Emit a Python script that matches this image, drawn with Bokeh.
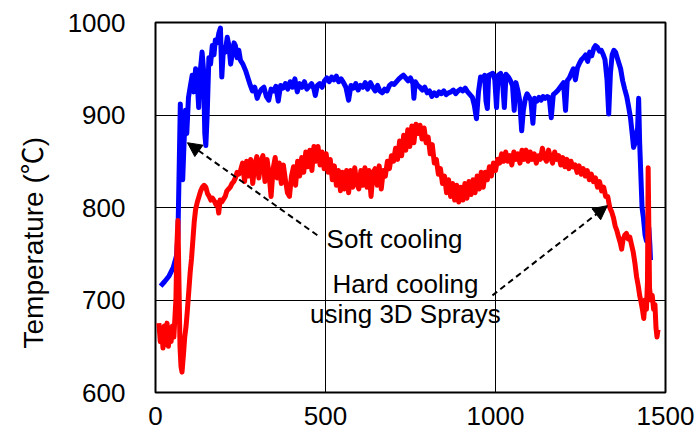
from bokeh.plotting import figure
from bokeh.models import Range1d, FixedTicker, Label, Arrow, NormalHead, Title
from bokeh.embed import file_html
from bokeh.resources import INLINE

# ---- data ----
soft_x = [15,27,40,52,62,66,70,73,76,80,84,88,92,97,102,108,113,118,123,127,131,137,141,145,148,152,157,162,167,172,176,181,186,191,195,200,205,211,216,221,226,231,235,240,245,250,257,265,272,279,285,292,299,305,312,319,326,333,340,347,354,361,368,375,382,389,396,403,410,417,424,431,438,445,452,459,466,470,476,483,490,497,504,511,518,525,532,539,546,553,560,568,575,582,589,596,603,610,617,624,632,639,646,653,660,667,674,681,688,695,702,709,716,722,729,736,743,750,757,760,764,771,778,785,792,799,806,813,820,827,834,841,848,855,862,869,876,883,890,897,904,911,918,925,932,938,944,950,956,962,968,972,976,980,986,992,998,1003,1008,1015,1020,1026,1031,1038,1044,1050,1055,1060,1066,1071,1077,1082,1088,1093,1098,1104,1110,1115,1122,1128,1134,1140,1146,1152,1158,1164,1170,1176,1182,1188,1194,1200,1206,1211,1217,1223,1229,1235,1241,1247,1253,1259,1265,1271,1277,1283,1289,1294,1300,1306,1311,1316,1322,1328,1333,1338,1343,1348,1353,1358,1363,1368,1374,1380,1386,1391,1397,1402,1406,1411,1415,1418,1421,1424,1427,1431,1435,1440,1444,1448,1451,1454,1456]
soft_t = [715,720,726,735,748,770,850,912,840,830,870,905,880,919,930,943,925,950,935,908,945,968,950,880,867,900,962,955,975,965,981,978,988,994,941,973,968,984,975,955,966,978,975,962,970,959,955,948,940,932,926,930,918,924,928,930,920,916,928,926,931,915,932,929,934,928,936,930,939,925,934,930,936,928,931,934,928,921,932,934,930,937,940,936,941,938,942,936,939,935,930,916,932,929,934,927,932,930,935,928,935,930,926,932,926,924,928,926,932,934,933,936,939,941,943,940,937,940,934,918,936,932,930,927,930,924,926,920,924,921,925,923,926,922,924,925,927,923,926,928,926,929,925,922,919,910,896,925,941,938,943,915,907,943,944,945,938,908,943,945,940,908,944,941,937,932,905,935,926,916,883,905,918,923,920,916,891,918,915,919,916,920,918,920,919,897,922,924,926,929,932,935,905,937,940,945,950,938,951,956,960,962,965,958,968,964,972,975,973,969,970,966,960,938,901,945,965,970,968,962,956,950,937,928,920,910,897,880,865,870,880,886,918,870,840,800,789,770,764,772,778,760,743]

hard_x = [10,14,18,22,26,30,34,38,42,46,50,54,
          57,60,63,66,69,72,75,78,
          82,86,90,94,98,102,106,110,114,118,
          123,128,133,138,143,148,153,158,163,168,173,178,
          182,186,190,
          195,200,205,210,215,220,225,230,235,240,245,
          250,256,262,268,274,280,286,292,298,304,
          310,316,322,328,334,340,346,352,358,364,
          370,376,382,388,394,400,406,412,418,424,
          430,436,442,448,454,460,466,472,478,484,
          490,496,502,508,514,520,526,532,538,544,
          550,556,562,568,574,580,586,592,598,604,
          610,616,622,628,634,640,646,652,658,664,
          670,676,682,688,694,700,706,712,718,724,
          730,736,742,748,754,760,766,772,778,784,
          790,796,802,808,814,820,826,832,838,844,
          850,856,862,868,874,880,886,892,898,904,
          910,916,922,928,934,940,946,952,958,964,
          970,976,982,988,994,1000,1006,1012,1018,1024,
          1030,1036,1042,1048,1054,1060,1066,1072,1078,1084,
          1090,1096,1102,1108,1114,1120,1126,1132,1138,1144,
          1150,1156,1162,1168,1174,1180,1186,1192,1198,1204,
          1210,1216,1222,1228,1234,1240,1246,1252,1258,1264,
          1270,1276,1282,1288,1294,1300,1306,1312,1318,1324,
          1330,1336,1342,
          1347,1352,1357,1362,1367,1371,1375,1380,1385,1390,1395,1400,1405,1410,1415,1420,1424,1428,1432,1436,1440,1444,1447,1449,1451,1453,1457,1461,1465,1469,1472,1475,1478]
hard_t = [675,655,670,648,672,652,675,650,670,655,672,660,
          680,700,760,786,720,650,628,622,
          640,660,672,690,710,730,745,765,785,798,
          806,812,818,822,824,822,815,812,808,810,807,803,
          805,794,808,
          806,809,812,818,820,822,826,828,832,838,836,
          840,848,828,850,834,852,826,846,855,832,
          850,856,828,852,836,812,842,854,832,848,
          826,846,830,816,812,834,844,824,850,834,
          854,838,860,844,862,840,866,850,866,846,
          860,842,858,838,852,830,845,824,840,818,
          838,820,840,816,840,822,843,826,820,840,
          824,843,822,840,812,838,842,824,845,820,
          840,834,850,842,856,850,864,852,872,856,
          878,862,884,866,888,870,890,880,889,874,
          886,870,876,858,868,848,852,836,842,826,
          834,816,830,812,826,808,824,806,822,808,
          826,810,828,814,830,816,834,820,838,822,
          838,830,844,834,848,840,852,848,858,850,
          860,850,856,846,860,852,858,848,862,852,
          862,850,860,852,858,848,856,852,864,854,
          850,862,854,848,860,852,856,846,854,844,
          852,842,850,844,846,838,845,836,842,834,
          840,830,836,828,832,822,828,818,822,812,
          812,800,795,
          789,780,775,768,762,755,765,770,772,766,768,760,752,740,725,715,705,698,690,680,700,690,720,843,780,713,700,705,690,695,670,660,668]

x_ticks = [0, 500, 1000, 1500]
y_ticks = [600, 700, 800, 900, 1000]
y_label = "Temperature (\u2103)"
notes = ["Soft cooling", "Hard cooling", "using 3D Sprays"]

FONT = "Liberation Sans"

p = figure(width=699, height=438, frame_width=510, frame_height=370,
           min_border_left=155, min_border_right=34, min_border_top=22, min_border_bottom=46,
           x_range=Range1d(0, 1500), y_range=Range1d(600, 1000),
           output_backend="svg", toolbar_location=None)

p.background_fill_color = "white"
p.border_fill_color = "white"
p.outline_line_color = "black"
p.outline_line_width = 2

for ax in (p.xaxis[0], p.yaxis[0]):
    ax.axis_line_color = None
    ax.major_tick_line_color = None
    ax.minor_tick_line_color = None
    ax.major_label_text_font = FONT
    ax.major_label_text_font_size = "26px"
    ax.major_label_text_color = "black"

p.xaxis[0].ticker = FixedTicker(ticks=x_ticks)
p.yaxis[0].ticker = FixedTicker(ticks=y_ticks)
p.xaxis[0].major_label_standoff = 8
p.yaxis[0].major_label_standoff = 24

p.xgrid.ticker = FixedTicker(ticks=x_ticks)
p.ygrid.ticker = FixedTicker(ticks=y_ticks)
for g in (p.xgrid[0], p.ygrid[0]):
    g.grid_line_color = "black"
    g.grid_line_width = 1
    g.grid_line_alpha = 1.0

p.line(soft_x, soft_t, line_color="#0000FF", line_width=5, line_join="round")
p.line(hard_x, hard_t, line_color="#FF0000", line_width=5, line_join="round")

# y axis title as a left-side Title so it can be shifted like the reference
p.add_layout(Title(text=y_label, align="left", offset=44, standoff=31,
                   text_font="'Liberation Sans', 'Noto Sans CJK JP'", text_font_size="28px",
                   text_font_style="normal", text_color="black"), "left")

# annotations
p.add_layout(Arrow(end=NormalHead(size=14, fill_color="black", line_color="black"),
                   x_start=476, y_start=770, x_end=94, y_end=870,
                   line_dash="6 4", line_width=2, line_color="black"))
p.add_layout(Arrow(end=NormalHead(size=14, fill_color="black", line_color="black"),
                   x_start=991, y_start=705, x_end=1329, y_end=802,
                   line_dash="6 4", line_width=2, line_color="black"))

for txt, lx, ly in [(notes[0], 703, 766), (notes[1], 735, 717), (notes[2], 735, 685)]:
    p.add_layout(Label(x=lx, y=ly, text=txt, text_align="center", text_baseline="middle",
                       text_font=FONT, text_font_size="26px", text_color="black"))

open("out.html", "w").write(file_html(p, INLINE))
